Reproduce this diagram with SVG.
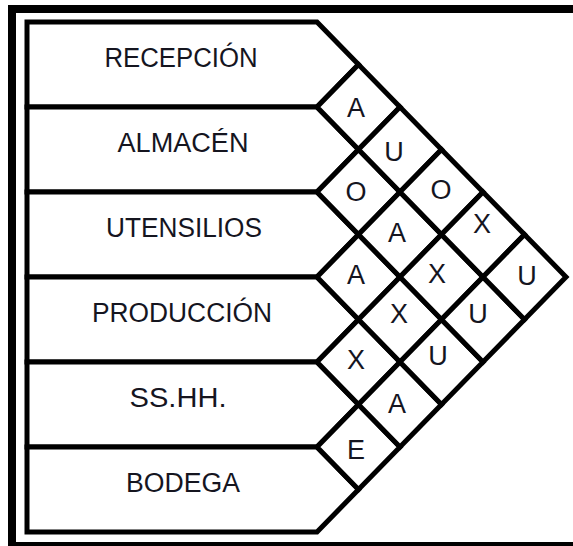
<svg xmlns="http://www.w3.org/2000/svg" xmlns:xlink="http://www.w3.org/1999/xlink" width="573" height="546" viewBox="0 0 573 546">
  <style>
    .frame { fill: none; stroke: #000; stroke-width: 8; }
    .row { fill: #fff; stroke: #000; stroke-width: 5; stroke-linejoin: miter; }
    .cell { fill: #fff; stroke: #000; stroke-width: 5; stroke-linejoin: miter; }
    .lbl { font-family: "Liberation Sans", Arial, sans-serif; font-size: 27px; fill: #15151f; text-anchor: middle; }
    .code { font-family: "Liberation Sans", Arial, sans-serif; font-size: 27px; fill: #15151f; text-anchor: middle; }
  </style>
  <defs>
    <path id="dm" d="M-41.5,0 L0,-42.5 L41.5,0 L0,42.5 Z"/>
  </defs>
  <rect width="573" height="546" fill="#fff"/>
  <rect class="frame" x="12" y="9" width="600" height="537"/>

  <g id="row-recepcion">
    <path class="row" d="M27,22 L317,22 L358.5,64.5 L317,107 L27,107 Z"/>
    <text class="lbl" x="181" y="67" textLength="153" lengthAdjust="spacingAndGlyphs">RECEPCIÓN</text>
  </g>
  <g id="row-almacen">
    <path class="row" d="M27,107 L317,107 L358.5,149.5 L317,192 L27,192 Z"/>
    <text class="lbl" x="183" y="152" textLength="131" lengthAdjust="spacingAndGlyphs">ALMACÉN</text>
  </g>
  <g id="row-utensilios">
    <path class="row" d="M27,192 L317,192 L358.5,234.5 L317,277 L27,277 Z"/>
    <text class="lbl" x="184" y="237" textLength="156" lengthAdjust="spacingAndGlyphs">UTENSILIOS</text>
  </g>
  <g id="row-produccion">
    <path class="row" d="M27,277 L317,277 L358.5,319.5 L317,362 L27,362 Z"/>
    <text class="lbl" x="182" y="322" textLength="180" lengthAdjust="spacingAndGlyphs">PRODUCCIÓN</text>
  </g>
  <g id="row-sshh">
    <path class="row" d="M27,362 L317,362 L358.5,404.5 L317,447 L27,447 Z"/>
    <text class="lbl" x="178" y="407" textLength="97" lengthAdjust="spacingAndGlyphs">SS.HH.</text>
  </g>
  <g id="row-bodega">
    <path class="row" d="M27,447 L317,447 L358.5,489.5 L317,532 L27,532 Z"/>
    <text class="lbl" x="183" y="492" textLength="114" lengthAdjust="spacingAndGlyphs">BODEGA</text>
  </g>

  <g id="cell-0-1"><use xlink:href="#dm" class="cell" x="358.5" y="107"/><text class="code" x="356" y="117">A</text></g>
  <g id="cell-1-2"><use xlink:href="#dm" class="cell" x="358.5" y="192"/><text class="code" x="356" y="201">O</text></g>
  <g id="cell-2-3"><use xlink:href="#dm" class="cell" x="358.5" y="277"/><text class="code" x="356" y="284">A</text></g>
  <g id="cell-3-4"><use xlink:href="#dm" class="cell" x="358.5" y="362"/><text class="code" x="356" y="369">X</text></g>
  <g id="cell-4-5"><use xlink:href="#dm" class="cell" x="358.5" y="447"/><text class="code" x="356" y="459">E</text></g>

  <g id="cell-0-2"><use xlink:href="#dm" class="cell" x="400" y="149.5"/><text class="code" x="394" y="161">U</text></g>
  <g id="cell-1-3"><use xlink:href="#dm" class="cell" x="400" y="234.5"/><text class="code" x="397" y="242">A</text></g>
  <g id="cell-2-4"><use xlink:href="#dm" class="cell" x="400" y="319.5"/><text class="code" x="399" y="323">X</text></g>
  <g id="cell-3-5"><use xlink:href="#dm" class="cell" x="400" y="404.5"/><text class="code" x="397" y="413">A</text></g>

  <g id="cell-0-3"><use xlink:href="#dm" class="cell" x="441.5" y="192"/><text class="code" x="441" y="199">O</text></g>
  <g id="cell-1-4"><use xlink:href="#dm" class="cell" x="441.5" y="277"/><text class="code" x="437" y="283">X</text></g>
  <g id="cell-2-5"><use xlink:href="#dm" class="cell" x="441.5" y="362"/><text class="code" x="438" y="365">U</text></g>

  <g id="cell-0-4"><use xlink:href="#dm" class="cell" x="483" y="234.5"/><text class="code" x="482" y="233">X</text></g>
  <g id="cell-1-5"><use xlink:href="#dm" class="cell" x="483" y="319.5"/><text class="code" x="478" y="323">U</text></g>

  <g id="cell-0-5"><use xlink:href="#dm" class="cell" x="524.5" y="277"/><text class="code" x="527" y="285">U</text></g>
</svg>
